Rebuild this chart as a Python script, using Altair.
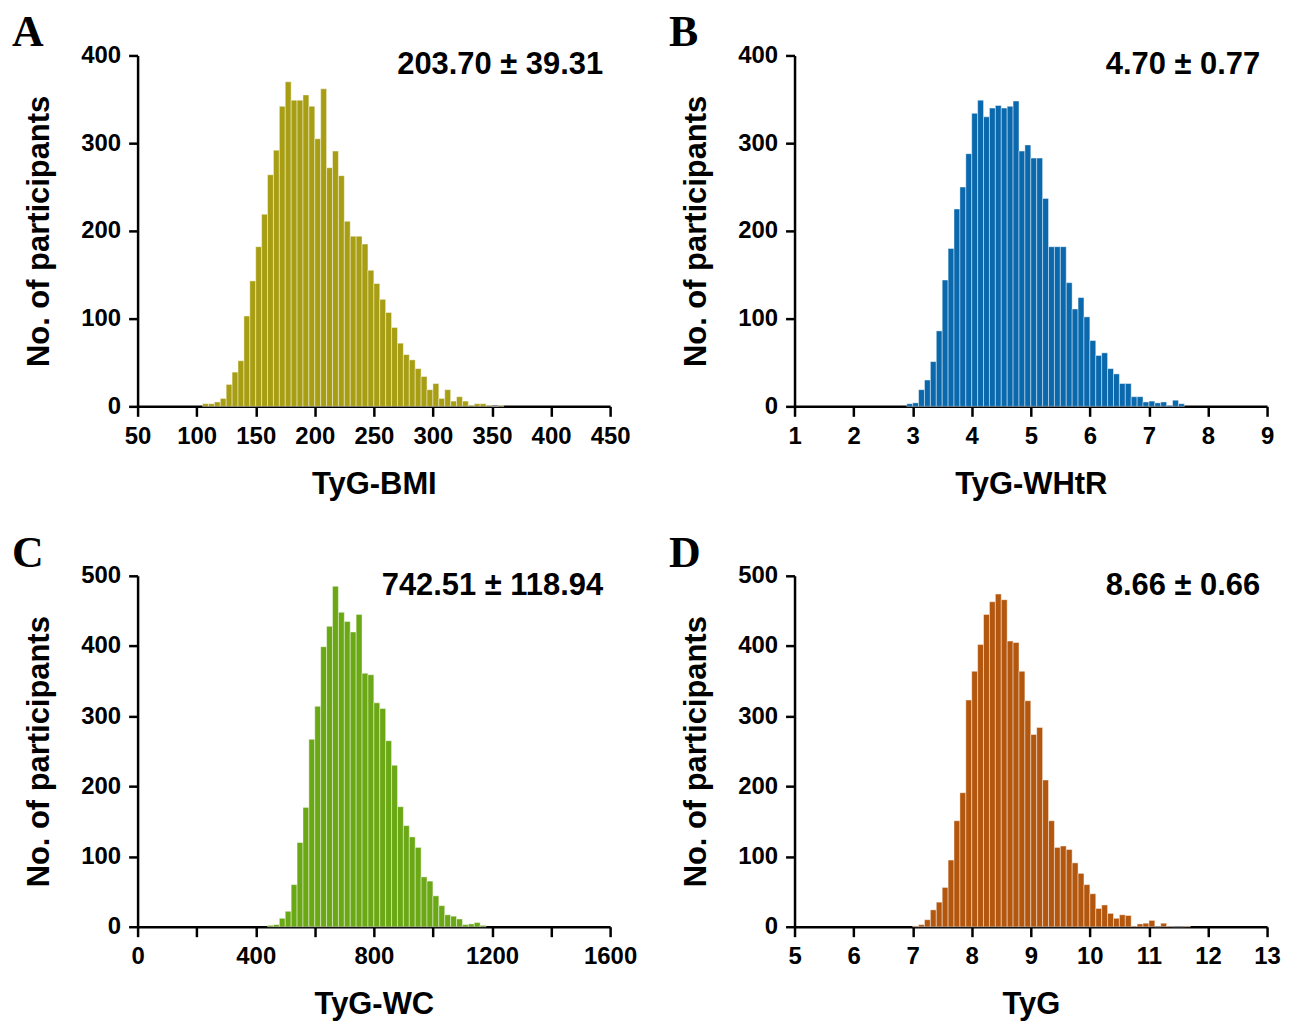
import altair as alt
import pandas as pd

W, H = 474, 352

# ---------------- data ----------------
# Panel A: TyG-BMI, bin width 5, first bin starts at 105
a_start, a_step = 105, 5
a_counts = [3, 3, 5, 9, 25, 39, 52, 103, 143, 182,
            219, 264, 292, 342, 370, 349, 349, 355, 342, 305,
            362, 272, 291, 263, 211, 194, 194, 185, 155, 140,
            122, 107, 90, 72, 59, 53, 43, 34, 19, 26,
            9, 19, 6, 11, 6, 1, 3, 3, 1, 0, 1]

# Panel B: TyG-WHtR, bin width 0.1, first bin starts at 2.9
b_start, b_step = 2.9, 0.1
b_counts = [3, 4, 19, 30, 51, 86, 144, 180, 225, 250,
            288, 334, 349, 330, 340, 343, 340, 342, 348, 291,
            298, 283, 283, 237, 182, 182, 182, 141, 111, 124,
            102, 75, 58, 61, 43, 37, 26, 26, 11, 11,
            5, 6, 4, 5, 1, 7, 3]

# Panel C: TyG-WC, bin width 20, first bin starts at 440
c_start, c_step = 440, 20
c_counts = [2, 3, 12, 22, 60, 120, 170, 267, 314, 399,
            428, 485, 448, 435, 420, 445, 361, 359, 319, 311,
            265, 230, 171, 144, 128, 113, 71, 65, 44, 30,
            17, 15, 11, 3, 4, 6, 2]

# Panel D: TyG, bin width 0.1, first bin starts at 7.0
d_start, d_step = 7.0, 0.1
d_counts = [1, 3, 10, 24, 35, 56, 95, 151, 191, 323,
            364, 402, 445, 463, 474, 466, 407, 405, 364, 322,
            274, 284, 209, 151, 113, 115, 110, 91, 76, 60,
            47, 26, 31, 19, 12, 17, 16, 1, 4, 5,
            9, 0, 5, 1, 0, 0, 1]

titles_x = ["TyG-BMI", "TyG-WHtR", "TyG-WC", "TyG"]
annotations = ["203.70 \u00b1 39.31", "4.70 \u00b1 0.77", "742.51 \u00b1 118.94", "8.66 \u00b1 0.66"]
letters = ["A", "B", "C", "D"]
colors = ["#A89E14", "#0A68AD", "#6BA815", "#B4570E"]

x_domains = [[50, 450], [1, 9], [0, 1600], [5, 13]]
x_ticks = [[50, 100, 150, 200, 250, 300, 350, 400, 450],
           [1, 2, 3, 4, 5, 6, 7, 8, 9],
           [0, 200, 400, 600, 800, 1000, 1200, 1400, 1600],
           [5, 6, 7, 8, 9, 10, 11, 12, 13]]
y_domains = [[0, 400], [0, 400], [0, 500], [0, 500]]
y_ticks = [[0, 100, 200, 300, 400], [0, 100, 200, 300, 400],
           [0, 100, 200, 300, 400, 500], [0, 100, 200, 300, 400, 500]]

FONT = "Liberation Sans, Arial, Helvetica, sans-serif"


def bins(start, step, counts):
    lo = [round(start + i * step, 4) for i in range(len(counts))]
    hi = [round(v + step, 4) for v in lo]
    return pd.DataFrame({"lo": lo, "hi": hi, "n": counts})


def panel(i, df):
    label_expr = "datum.value % 400 == 0 ? datum.label : ''" if i == 2 else "datum.label"
    xaxis = alt.Axis(values=x_ticks[i], title=titles_x[i], labelExpr=label_expr, format="d",
                     tickSize=10, labelPadding=8, titlePadding=21,
                     labelOverlap=False, labelFlush=False, labelBound=False)
    yaxis = alt.Axis(values=y_ticks[i], title="No. of participants", format="d",
                     tickSize=9, labelPadding=8, titlePadding=25,
                     labelOverlap=False, labelFlush=False, labelBound=False)
    bars = alt.Chart(df).mark_rect(
        color=colors[i], stroke="white", strokeWidth=0.8, strokeOpacity=0.55
    ).encode(
        x=alt.X("lo:Q", scale=alt.Scale(domain=x_domains[i], nice=False, zero=False), axis=xaxis),
        x2="hi:Q",
        y=alt.Y("n:Q", scale=alt.Scale(domain=y_domains[i], nice=False), axis=yaxis),
        y2=alt.datum(0),
    )
    ann = alt.Chart(pd.DataFrame({"t": [annotations[i]]})).mark_text(
        font=FONT, fontSize=31, fontWeight="bold", align="right", baseline="middle", color="black"
    ).encode(x=alt.value(W - 7), y=alt.value(10), text="t:N")
    let = alt.Chart(pd.DataFrame({"t": [letters[i]]})).mark_text(
        font="Liberation Serif, Times New Roman, serif", fontSize=44, fontWeight="bold",
        align="left", baseline="alphabetic", color="black"
    ).encode(x=alt.value(-126), y=alt.value(-9), text="t:N")
    return alt.layer(bars, ann, let).properties(width=W, height=H)


dfs = [bins(a_start, a_step, a_counts), bins(b_start, b_step, b_counts),
       bins(c_start, c_step, c_counts), bins(d_start, d_step, d_counts)]
panels = [panel(i, dfs[i]) for i in range(4)]

chart = alt.concat(
    *panels, columns=2, spacing=alt.RowColnumber(row=170, column=185), bounds="flush"
).properties(
    padding={"left": 4, "top": 2, "right": 5, "bottom": 5}
).configure_view(stroke=None).configure_axis(
    grid=False, domainColor="black", domainWidth=2.5, tickColor="black", tickWidth=2.5,
    labelFont=FONT, labelFontSize=24, labelFontWeight="bold", labelColor="black",
    titleFont=FONT, titleFontSize=31, titleFontWeight="bold", titleColor="black",
)

chart.save("out.html", embed_options={"renderer": "svg", "actions": False})
